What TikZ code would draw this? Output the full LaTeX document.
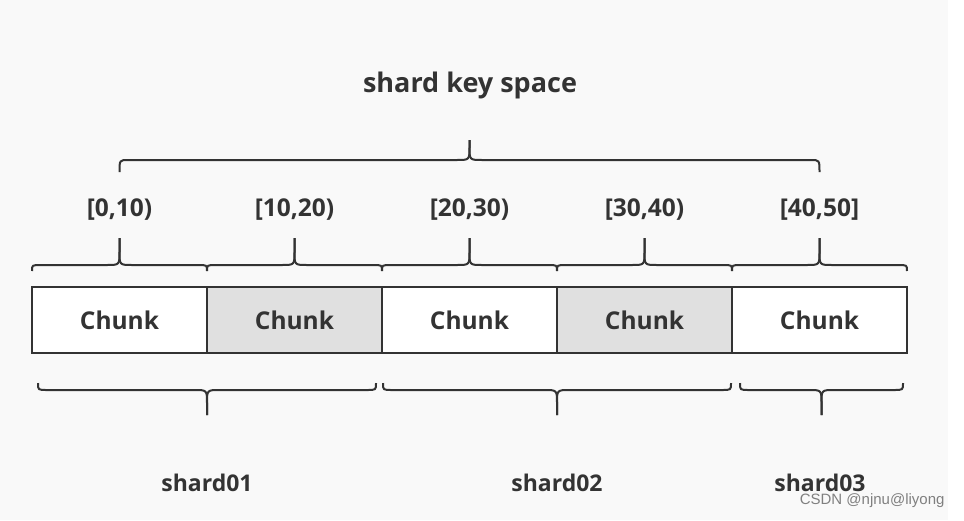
\documentclass[tikz,border=0pt]{standalone}
\usepackage{fontspec}
\setmainfont{Open Sans}
\newfontfamily\markfont{Liberation Sans}
\usepackage{xcolor}
\usepackage{tikz}
\usetikzlibrary{calc}
\definecolor{inkgray}{HTML}{333333}
\definecolor{chunkgray}{HTML}{E0E0E0}
\definecolor{pagegray}{HTML}{F9F9F9}
\newcommand{\curlybrace}[4][-6]{
\coordinate (s) at (#2);
\coordinate (t) at (#3);
\coordinate (bracemid) at ($(s)!0.5!(t)+(0,#1)$);
\coordinate (bracetip) at ($(s)!0.5!(t)+(0,#4)$);
\coordinate (bracebend) at ($(bracemid)!13pt!(bracetip)$);
\draw[brace line] (s) .. controls +(0,#1) .. ($(s)+(9,#1)$) -- ($(bracemid)+(-13,0)$) .. controls (bracemid) .. (bracebend) -- (bracetip);
\draw[brace line] (t) .. controls +(0,#1) .. ($(t)+(-9,#1)$) -- ($(bracemid)+(13,0)$) .. controls (bracemid) .. (bracebend) -- (bracetip);
}

\begin{document}
\begin{tikzpicture}[x=1pt,y=-1pt,
  every node/.style={text=inkgray,font=\bfseries\fontsize{24.5}{28}\selectfont},
  chunk/.style={draw=inkgray,line width=2.5pt,fill=white,minimum width=175pt,minimum height=66pt,inner sep=0pt,outer sep=0pt},
  chunk grey/.style={chunk,fill=chunkgray},
  shard/.style={font=\bfseries\fontsize{23}{27}\selectfont},
  brace line/.style={draw=inkgray,line width=2pt}]
\useasboundingbox (0,0) rectangle (964,520);
\fill[pagegray] (0,0) rectangle (948,520);
\fill[white] (948,0) rectangle (964,520);
\node[font=\bfseries\fontsize{27}{32}\selectfont] at (470, 85) (title) {shard key space};
\node at (119.5, 210) (k1) {[0,10)};
\node at (294.5, 210) (k2) {[10,20)};
\node at (469.5, 210) (k3) {[20,30)};
\node at (644.5, 210) (k4) {[30,40)};
\node at (819.5, 210) (k5) {[40,50]};
\node[chunk] at (119.5, 320) (c1) {Chunk};
\node[chunk grey] at (294.5, 320) (c2) {Chunk};
\node[chunk] at (469.5, 320) (c3) {Chunk};
\node[chunk grey] at (644.5, 320) (c4) {Chunk};
\node[chunk] at (819.5, 320) (c5) {Chunk};
\node[shard] at (207, 483) (s1) {shard01};
\node[shard] at (557, 483) (s2) {shard02};
\node[shard] at (820, 483) (s3) {shard03};
\node[anchor=south east,text=gray,font=\markfont\fontsize{15}{18}\selectfont] at (948, 511) (mark) {CSDN @njnu@liyong};
\curlybrace[-12]{$(c1.north)+(0,-115)$}{$(c5.north)+(0,-115)$}{-32}
\curlybrace{$(c1.north west)+(0,-16)$}{$(c1.north east)+(0,-16)$}{-33}
\curlybrace{$(c2.north west)+(0,-16)$}{$(c2.north east)+(0,-16)$}{-33}
\curlybrace{$(c3.north west)+(0,-16)$}{$(c3.north east)+(0,-16)$}{-33}
\curlybrace{$(c4.north west)+(0,-16)$}{$(c4.north east)+(0,-16)$}{-33}
\curlybrace{$(c5.north west)+(0,-16)$}{$(c5.north east)+(0,-16)$}{-33}
\curlybrace[7]{$(c1.south west)+(6,30)$}{$(c2.south east)+(-6,30)$}{32}
\curlybrace[7]{$(c3.south west)+(1,30)$}{$(c4.south east)+(-1,30)$}{32}
\curlybrace[7]{$(c5.south west)+(8,30)$}{$(c5.south east)+(-4,30)$}{32}
\end{tikzpicture}
\end{document}
